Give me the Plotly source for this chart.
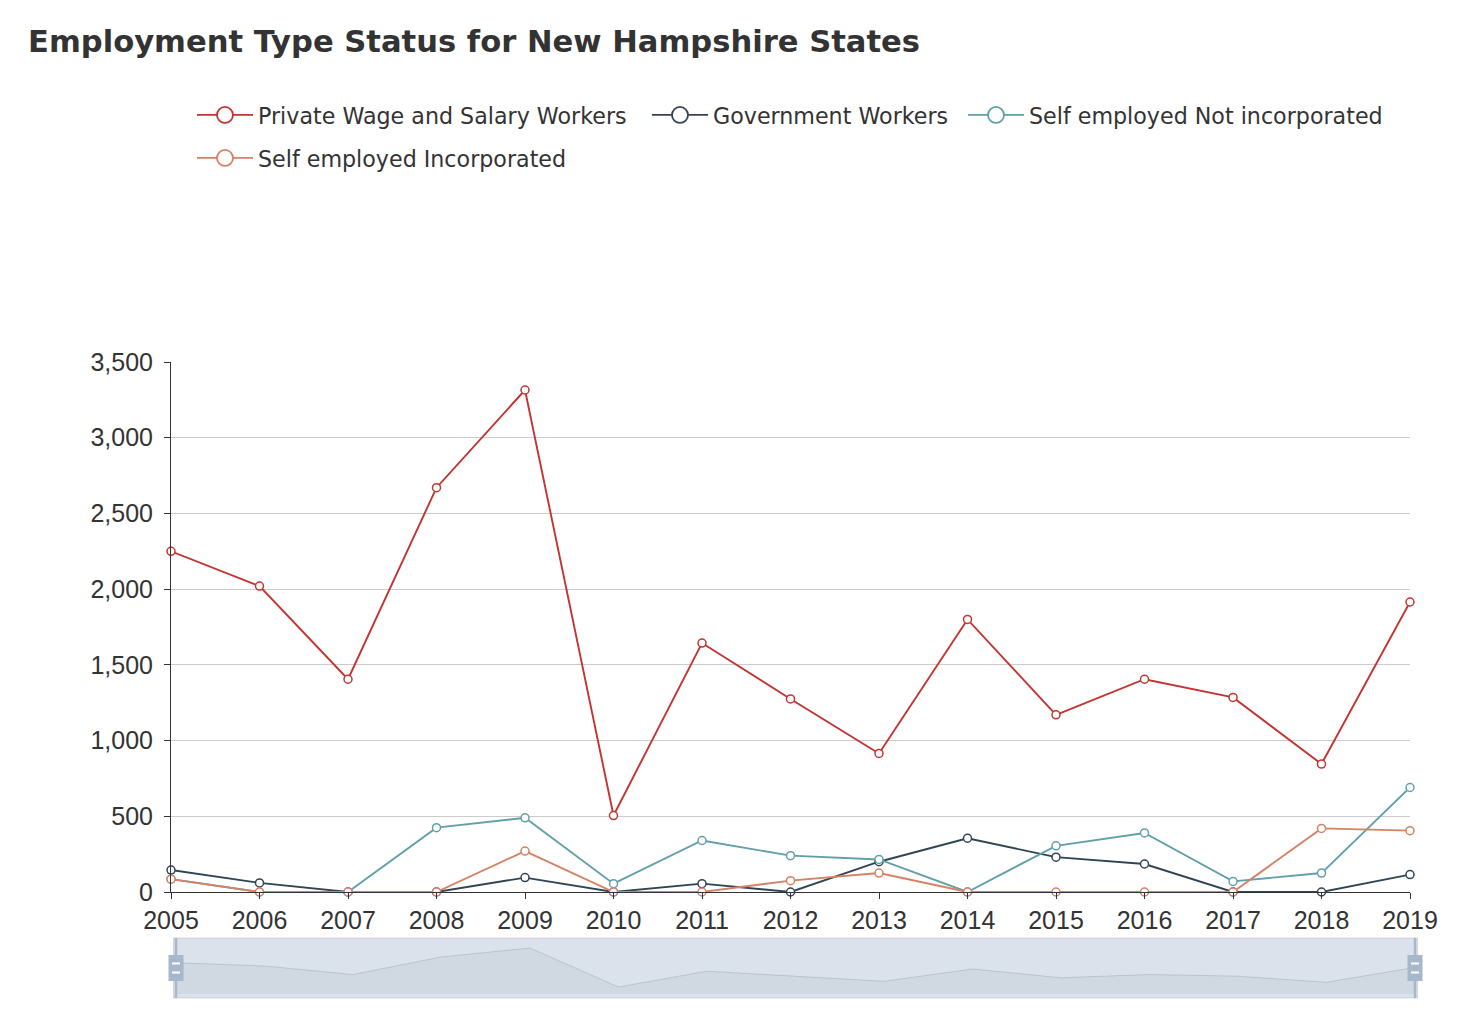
import plotly.graph_objects as go

years = list(range(2005, 2020))
private_wage = [2250, 2020, 1405, 2670, 3315, 505, 1644, 1275, 915, 1800, 1170, 1405, 1285, 845, 1915]
government = [145, 60, 0, 0, 95, 0, 55, 0, 200, 355, 230, 185, 0, 0, 115]
self_not_inc = [85, 0, 0, 425, 490, 55, 340, 240, 215, 0, 305, 390, 70, 125, 690]
self_inc = [85, 0, 0, 0, 270, 0, 0, 75, 125, 0, 0, 0, 0, 420, 405]
y_ticks = [0, 500, 1000, 1500, 2000, 2500, 3000, 3500]

series_names = ["Private Wage and Salary Workers", "Government Workers",
                "Self employed Not incorporated", "Self employed Incorporated"]
series_values = [private_wage, government, self_not_inc, self_inc]
colors = ["#c23531", "#2f4554", "#61a0a8", "#d48265"]

AXFONT = "Liberation Sans, Arial, sans-serif"
TXFONT = "DejaVu Sans, Liberation Sans, sans-serif"
W, H = 1478, 1028

fig = go.Figure()

for name, vals, col in zip(series_names, series_values, colors):
    fig.add_trace(go.Scatter(
        x=years, y=vals, name=name, mode="lines+markers",
        line=dict(color=col, width=1.9),
        marker=dict(size=8, color="white", line=dict(color=col, width=1.5)),
        showlegend=False, xaxis="x", yaxis="y", cliponaxis=False,
    ))

# legend-only entries (one legend box per item for exact placement)
legend_pos = [(198, 115, "legend"), (653, 115, "legend2"), (969, 115, "legend3"), (198, 158, "legend4")]
for name, col, (lx, ly, lg) in zip(series_names, colors, legend_pos):
    fig.add_trace(go.Scatter(
        x=[None], y=[None], name=name, mode="lines+markers",
        line=dict(color=col, width=1.8),
        marker=dict(size=20, color="white", line=dict(color=col, width=1.8)),
        legend=lg, showlegend=True,
    ))

# data shadow in the slider
fig.add_trace(go.Scatter(
    x=years, y=private_wage, mode="lines", fill="tozeroy",
    line=dict(color="rgba(47,69,84,0.3)", width=0.8),
    fillcolor="rgba(47,69,84,0.09)",
    showlegend=False, xaxis="x2", yaxis="y2", hoverinfo="skip",
))

L, R_edge = 171, 1416
T, B_edge = 362, 998
pw = R_edge - L
ph = B_edge - T

layout_legends = {}
for (lx, ly, lg) in legend_pos:
    layout_legends[lg] = dict(
        xref="container", yref="container",
        x=(lx - 6) / W, y=1 - ly / H, xanchor="left", yanchor="middle",
        orientation="h", itemwidth=56, bgcolor="rgba(0,0,0,0)",
        font=dict(family=TXFONT, size=22.2, color="#333"),
    )

fig.update_layout(
    width=W, height=H,
    margin=dict(l=L, r=W - R_edge, t=T, b=H - B_edge, pad=0),
    paper_bgcolor="white", plot_bgcolor="white",
    font=dict(family=AXFONT, size=25, color="#333"),
    title=dict(text="Employment Type Status for New Hampshire States",
               xref="container", yref="container", x=28 / W, y=1 - 41 / H,
               xanchor="left", yanchor="middle",
               font=dict(family=TXFONT, size=30.6, color="#333", weight="bold")),
    xaxis=dict(domain=[0, (1410 - L) / pw], range=[2005, 2019], anchor="y",
               tickvals=years, ticktext=[str(y) for y in years],
               showgrid=False, zeroline=False, showline=True, linecolor="#333", linewidth=1,
               ticks="outside", ticklen=6, tickcolor="#333",
               tickfont=dict(family=AXFONT, size=25, color="#333")),
    yaxis=dict(domain=[(B_edge - 892) / ph, 1], range=[0, 3500], anchor="x",
               tickvals=y_ticks, tickformat=",d",
               showgrid=True, gridcolor="#ccc", gridwidth=1, zeroline=False,
               showline=True, linecolor="#333", linewidth=1,
               ticks="outside", ticklen=6, tickcolor="#333", ticklabelstandoff=6,
               tickfont=dict(family=AXFONT, size=25, color="#333")),
    xaxis2=dict(domain=[(176 - L) / pw, (1415 - L) / pw], range=[2005, 2019], anchor="y2",
                visible=False, showgrid=False, zeroline=False),
    yaxis2=dict(domain=[0, (B_edge - 938) / ph], range=[-288, 4036], anchor="x2",
                visible=False, showgrid=False, zeroline=False),
    hovermode=False,
    **layout_legends,
)

shapes = []
# slider frame background/filler
shapes.append(dict(type="rect", xref="x2 domain", yref="y2 domain", x0=-0.002, x1=1.002, y0=0, y1=1,
                   fillcolor="rgba(167,183,204,0.4)", line=dict(width=0), layer="above"))
shapes.append(dict(type="rect", xref="x2 domain", yref="y2 domain", x0=-0.002, x1=1.002, y0=0, y1=1,
                   fillcolor="rgba(0,0,0,0)", line=dict(color="#ddd", width=1), layer="below"))
for xd in (0, 1):
    shapes.append(dict(type="line", xref="x2 domain", yref="y2 domain", x0=xd, x1=xd, y0=0, y1=1,
                       line=dict(color="#a7b7cc", width=2.5), layer="above"))
    shapes.append(dict(type="rect", xref="x2 domain", yref="y2 domain",
                       xsizemode="pixel", xanchor=xd, x0=-7.5, x1=7.5,
                       ysizemode="pixel", yanchor=0.5, y0=-13, y1=13,
                       fillcolor="#a7b7cc", line=dict(width=0), layer="above"))
    for dy in (-4.5, 4.5):
        shapes.append(dict(type="line", xref="x2 domain", yref="y2 domain",
                           xsizemode="pixel", xanchor=xd, x0=-4, x1=4,
                           ysizemode="pixel", yanchor=0.5, y0=dy, y1=dy,
                           line=dict(color="white", width=2), layer="above"))
fig.update_layout(shapes=shapes)

fig.write_html("out.html", config={"displayModeBar": False},
               post_script="document.body.style.margin='0px';document.body.style.overflow='hidden';")
